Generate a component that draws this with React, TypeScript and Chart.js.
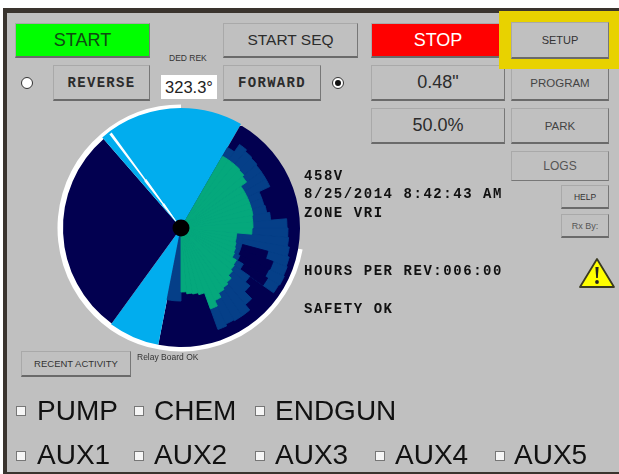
import React, { useEffect, useRef } from "react";
import { Chart, registerables } from "chart.js";

Chart.register(...registerables);

// Angles are degrees clockwise from the top, radii are in the scale's units.
const NEEDLE_ANGLE = 323.3;
const NEEDLE_RADIUS = [0, 118, 0];
const NEEDLE_INNER_RADIUS = [0, 60, 0];
const NEEDLE_ROOT_RADIUS = [0, 30, 0];
const HUB_RADIUS = [8.5];
const RING_SPANS = [100, 260];
const RING_RADIUS = [0, 123.5];
const OUTER_SPANS = [30, 161, 25, 103, 41];
const OUTER_RADIUS = [120, 119, 119, 118, 120];
const SECTOR_SPANS = [30, 5, 5, 5, 5, 5, 5, 5, 5, 5, 5, 5, 5, 5, 5, 5, 5, 5, 5, 5, 5, 5, 5, 5, 5, 5, 5, 5, 5, 5, 5, 11, 169];
const GREEN_RADIUS = [0, 83, 83, 83, 82, 80, 73, 73, 73, 73, 73, 72, 72, 71, 56, 56, 57, 58, 59, 64, 65, 67, 71, 73, 75, 80, 86, 69, 67, 66, 64, 0, 0];
const BLUE_INNER_RADIUS = [0, 0, 0, 0, 0, 0, 0, 0, 0, 0, 0, 0, 0, 0, 62, 63, 63, 63, 65, 72, 84, 90, 100, 107, 107, 106, 108, 0, 0, 0, 0, 73, 0];
const NAVY_PATCH_RADIUS = [0, 0, 0, 0, 0, 0, 0, 0, 0, 0, 0, 0, 0, 0, 0, 0, 90, 98, 97, 100, 0, 0, 0, 0, 0, 0, 0, 0, 0, 0, 0, 0, 0];
const BLUE_OUTER_RADIUS = [0, 93, 102, 100, 99, 98, 98, 98, 86, 86, 87, 90, 106, 107, 108, 110, 112, 113, 114, 113, 0, 0, 0, 0, 0, 0, 0, 0, 0, 0, 0, 0, 0];

const NAVY = "#020050";
const SKY = "#01adee";
const BLUE = "#053f88";
const GREEN = "#05a87c";
const PANEL = "#c0c0c0";

const SANS = '"Liberation Sans", Arial, sans-serif';
const MONO = '"Liberation Mono", monospace';

function Btn(p: { x: number; y: number; w: number; h: number; text: string; size: number; bg?: string; color?: string; font?: string; bold?: boolean; flat?: boolean; spacing?: number }) {
  return (
    <div
      style={{
        position: "absolute",
        left: p.x,
        top: p.y,
        width: p.w,
        height: p.h,
        boxSizing: "border-box",
        background: p.bg ?? PANEL,
        borderTop: "1px solid #a9a9a9",
        borderLeft: "1px solid #a9a9a9",
        borderRight: p.flat ? "1px solid #888" : "1px solid #777",
        borderBottom: p.flat ? "1px solid #777" : "2px solid #6a6a6a",
        display: "flex",
        alignItems: "center",
        justifyContent: "center",
        fontFamily: p.font ?? SANS,
        fontWeight: p.bold ? 700 : 400,
        fontSize: p.size,
        letterSpacing: p.spacing ?? 0,
        color: p.color ?? "#2c2c2c",
        whiteSpace: "nowrap",
      }}
    >
      {p.text}
    </div>
  );
}

function Label(p: { x: number; y: number; text: string; size: number; font?: string; bold?: boolean; spacing?: number; color?: string }) {
  return (
    <div
      style={{
        position: "absolute",
        left: p.x,
        top: p.y,
        transform: "translateY(-50%)",
        fontFamily: p.font ?? SANS,
        fontWeight: p.bold ? 700 : 400,
        fontSize: p.size,
        letterSpacing: p.spacing ?? 0,
        color: p.color ?? "#111",
        whiteSpace: "nowrap",
        lineHeight: 1,
      }}
    >
      {p.text}
    </div>
  );
}

function Check(p: { x: number; y: number }) {
  return (
    <div
      style={{
        position: "absolute",
        left: p.x,
        top: p.y,
        width: 10,
        height: 10,
        boxSizing: "border-box",
        background: "#f6f6f6",
        border: "1px solid #777",
      }}
    />
  );
}

function Radio(p: { x: number; y: number; on?: boolean }) {
  return (
    <div
      style={{
        position: "absolute",
        left: p.x - 6,
        top: p.y - 6,
        width: 12,
        height: 12,
        boxSizing: "border-box",
        borderRadius: "50%",
        background: "#fff",
        border: "1.5px solid #333",
        display: "flex",
        alignItems: "center",
        justifyContent: "center",
      }}
    >
      {p.on ? <div style={{ width: 6, height: 6, borderRadius: "50%", background: "#111" }} /> : null}
    </div>
  );
}

export default function App() {
  const ref = useRef<HTMLCanvasElement>(null);

  useEffect(() => {
    if (!ref.current) return;
    const solid = (data: number[], spans: number[], color: string | string[], seam = 0) => ({
      data,
      angle: spans,
      backgroundColor: color,
      borderColor: color,
      borderWidth: seam,
    });
    const needleSpans = (width: number) => [NEEDLE_ANGLE - width / 2, width, 360 - NEEDLE_ANGLE - width / 2];
    const chart = new Chart(ref.current, {
      type: "polarArea",
      data: {
        labels: SECTOR_SPANS.map((_, i) => String(i)),
        datasets: [
          solid(HUB_RADIUS, [360], "#000000"),
          solid(NEEDLE_RADIUS, needleSpans(1.4), "#ffffff"),
          solid(NEEDLE_INNER_RADIUS, needleSpans(2.6), "#ffffff"),
          solid(NEEDLE_ROOT_RADIUS, needleSpans(5), "#ffffff"),
          solid(GREEN_RADIUS, SECTOR_SPANS, GREEN, 0.9),
          solid(BLUE_INNER_RADIUS, SECTOR_SPANS, BLUE, 0.9),
          solid(NAVY_PATCH_RADIUS, SECTOR_SPANS, NAVY, 0.9),
          solid(BLUE_OUTER_RADIUS, SECTOR_SPANS, BLUE, 0.9),
          solid(OUTER_RADIUS, OUTER_SPANS, [SKY, NAVY, SKY, NAVY, SKY]),
          solid(RING_RADIUS, RING_SPANS, "#ffffff"),
        ] as any,
      },
      options: {
        responsive: false,
        animation: false,
        layout: { padding: 0 },
        plugins: { legend: { display: false }, tooltip: { enabled: false } },
        scales: {
          r: {
            min: 0,
            max: 125,
            ticks: { display: false },
            grid: { display: false },
            angleLines: { display: false },
            pointLabels: { display: false },
          },
        },
      } as any,
    });
    return () => chart.destroy();
  }, []);

  return (
    <div style={{ position: "absolute", left: 0, top: 0, width: 619, height: 474, background: "#fff", overflow: "hidden" }}>
      <div style={{ position: "absolute", left: 3, top: 8, width: 616, height: 466, background: "#3a342e" }} />
      <div style={{ position: "absolute", left: 7, top: 13, width: 612, height: 459, background: PANEL }} />

      <Btn x={15} y={23} w={135} h={35} text="START" size={18} bg="#00ff00" color="#0f4a12" />
      <Btn x={223} y={23} w={135} h={35} text="START SEQ" size={15.5} />
      <Label x={169} y={58} text="DED REK" size={8.5} color="#333" />
      <Radio x={27} y={83} />
      <Btn x={53} y={65} w={97} h={36} text="REVERSE" size={14} font={MONO} bold spacing={1.3} />
      <div style={{ position: "absolute", left: 161, top: 75, width: 56, height: 24, background: "#fff", display: "flex", alignItems: "center", justifyContent: "center", fontFamily: SANS, fontSize: 16.5, color: "#222" }}>323.3°</div>
      <Btn x={223} y={65} w={98} h={36} text="FORWARD" size={14} font={MONO} bold spacing={1.3} />
      <Radio x={338} y={83} on />

      <Btn x={371} y={23} w={134} h={35} text="STOP" size={18} bg="#ff0000" color="#ffffff" />
      <Btn x={371} y={65} w={134} h={36} text={'0.48"'} size={18} />
      <Btn x={371} y={108} w={134} h={36} text="50.0%" size={18} />

      <Btn x={511} y={65} w={98} h={36} text="PROGRAM" size={11.5} color="#444" />
      <div style={{ position: "absolute", left: 499, top: 11, width: 120, height: 58, background: "#e8d200" }} />
      <Btn x={511} y={22} w={98} h={37} text="SETUP" size={11} color="#333" />
      <Btn x={511} y={108} w={98} h={36} text="PARK" size={11.5} color="#444" />
      <Btn x={511} y={151} w={98} h={30} text="LOGS" size={12} color="#555" flat />
      <Btn x={561} y={185} w={48} h={24} text="HELP" size={8.5} color="#333" />
      <Btn x={561} y={214} w={48} h={24} text="Rx By:" size={9} color="#555" />

      <svg style={{ position: "absolute", left: 578, top: 256, width: 38, height: 34 }} viewBox="0 0 38 34">
        <path d="M19 3 L36 31 L2 31 Z" fill="#ffff00" stroke="#3a3a20" strokeWidth="1.8" strokeLinejoin="round" />
        <path d="M17.4 11 L20.6 11 L19.8 22 L18.2 22 Z" fill="#222" />
        <circle cx="19" cy="26" r="1.9" fill="#222" />
      </svg>

      <canvas ref={ref} width={250} height={250} style={{ position: "absolute", left: 56, top: 103, width: 250, height: 250 }} />

      <Label x={304} y={176} text="458V" size={14} font={MONO} bold spacing={1.55} />
      <Label x={304} y={194} text="8/25/2014 8:42:43 AM" size={14} font={MONO} bold spacing={1.55} />
      <Label x={304} y={213} text="ZONE VRI" size={14} font={MONO} bold spacing={1.55} />
      <Label x={304} y={271} text="HOURS PER REV:006:00" size={14} font={MONO} bold spacing={1.55} />
      <Label x={304} y={309} text="SAFETY OK" size={14} font={MONO} bold spacing={1.55} />

      <Btn x={21} y={351} w={110} h={26} text="RECENT ACTIVITY" size={9.5} color="#333" />
      <Label x={137} y={357} text="Relay Board OK" size={8.5} color="#333" />

      <Check x={16} y={406} />
      <Label x={37} y={411} text="PUMP" size={28} />
      <Check x={134} y={406} />
      <Label x={154} y={411} text="CHEM" size={28} />
      <Check x={255} y={406} />
      <Label x={275} y={411} text="ENDGUN" size={28} />

      <Check x={16} y={451} />
      <Label x={37} y={455} text="AUX1" size={28} />
      <Check x={134} y={451} />
      <Label x={154} y={455} text="AUX2" size={28} />
      <Check x={255} y={451} />
      <Label x={275} y={455} text="AUX3" size={28} />
      <Check x={375} y={451} />
      <Label x={395} y={455} text="AUX4" size={28} />
      <Check x={495} y={451} />
      <Label x={514} y={455} text="AUX5" size={28} />
    </div>
  );
}
